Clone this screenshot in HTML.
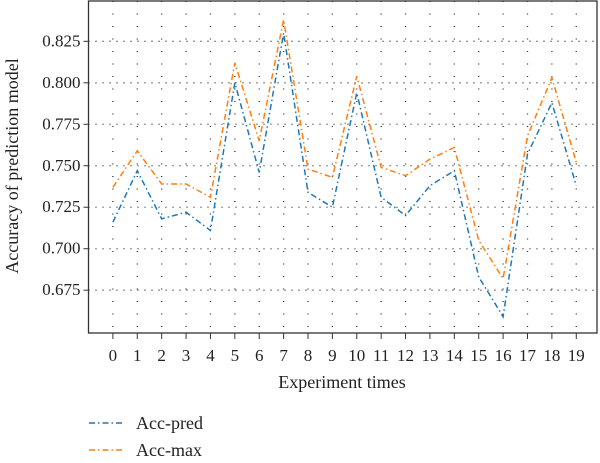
<!DOCTYPE html>
<html><head><meta charset="utf-8"><style>
body{margin:0;background:#fff;}
svg{display:block;font-family:"Liberation Serif",serif;}
</style></head><body>
<svg id="chart" width="600" height="463">
<g id="grid"></g>
<g id="series"></g>
<g id="axes"></g>
<text x="342" y="388" text-anchor="middle" font-size="18" fill="#222">Experiment times</text>
<text transform="translate(18,166) rotate(-90)" text-anchor="middle" font-size="18" fill="#222">Accuracy of prediction model</text>
<g>
<g>
<line x1="89" y1="423" x2="123" y2="423" stroke="#1f77b4" stroke-width="1.5" stroke-dasharray="6,3,1.5,3"/>
<text x="136" y="429" font-size="18" fill="#222">Acc-pred</text></g>
<g>
<line x1="89" y1="450" x2="123" y2="450" stroke="#ff7f0e" stroke-width="1.5" stroke-dasharray="6,3,1.5,3"/>
<text x="136" y="456" font-size="18" fill="#222">Acc-max</text></g>
</g>
</svg>
<script>
const categories=[0,1,2,3,4,5,6,7,8,9,10,11,12,13,14,15,16,17,18,19];
const accPred=[0.716,0.747,0.718,0.722,0.711,0.800,0.746,0.830,0.734,0.725,0.794,0.731,0.720,0.738,0.747,0.683,0.659,0.757,0.788,0.738];
const accMax=[0.737,0.759,0.739,0.739,0.731,0.812,0.765,0.838,0.748,0.743,0.804,0.749,0.744,0.754,0.761,0.705,0.682,0.768,0.803,0.752];
const yTicks=[0.675,0.700,0.725,0.750,0.775,0.800,0.825];
const L=88.5,R=597,T=1,B=333;
const xMin=-1,xMax=19.85,yMin=0.6492,yMax=0.8493;
const xs=v=>L+(v-xMin)/(xMax-xMin)*(R-L);
const ys=v=>B-(v-yMin)/(yMax-yMin)*(B-T);
const NS="http://www.w3.org/2000/svg";
const grid=document.getElementById('grid'),ax=document.getElementById('axes'),ser=document.getElementById('series');
function mk(tag,attrs,parent){const e=document.createElementNS(NS,tag);for(const k in attrs)e.setAttribute(k,attrs[k]);parent.appendChild(e);return e;}
categories.forEach(c=>{
  const g=mk('line',{x1:xs(c),x2:xs(c),y1:T,y2:B,stroke:'#333','stroke-width':1.3,'stroke-dasharray':'1,11.5'},grid);
  
  
  const t=mk('line',{x1:xs(c),x2:xs(c),y1:B,y2:B+6,stroke:'#333','stroke-width':1},ax);
  
  
  const l=mk('text',{x:xs(c),y:B+28,'text-anchor':'middle','font-size':17,fill:'#222'},ax);
  l.textContent=c;
  
  
});
yTicks.forEach(v=>{
  const g=mk('line',{x1:L,x2:R,y1:ys(v),y2:ys(v),stroke:'#333','stroke-width':1.3,'stroke-dasharray':'1,6'},grid);
  
  
  const t=mk('line',{x1:L-5,x2:L,y1:ys(v),y2:ys(v),stroke:'#333','stroke-width':1},ax);
  
  
  const l=mk('text',{x:L-8,y:ys(v)+5,'text-anchor':'end','font-size':17,fill:'#222'},ax);
  l.textContent=v.toFixed(3);
  
  
});
const fr=mk('rect',{x:L,y:T,width:R-L,height:B-T,fill:'none',stroke:'#333','stroke-width':1.3},ax);


function line(vals,color,name){
  const p=mk('polyline',{points:vals.map((v,i)=>xs(categories[i])+','+ys(v)).join(' '),fill:'none',stroke:color,'stroke-width':1.5,'stroke-dasharray':'6,3,1.5,3'},ser);
  
  
}
line(accPred,'#1f77b4','acc-pred-line');
line(accMax,'#ff7f0e','acc-max-line');
</script>
</body></html>
